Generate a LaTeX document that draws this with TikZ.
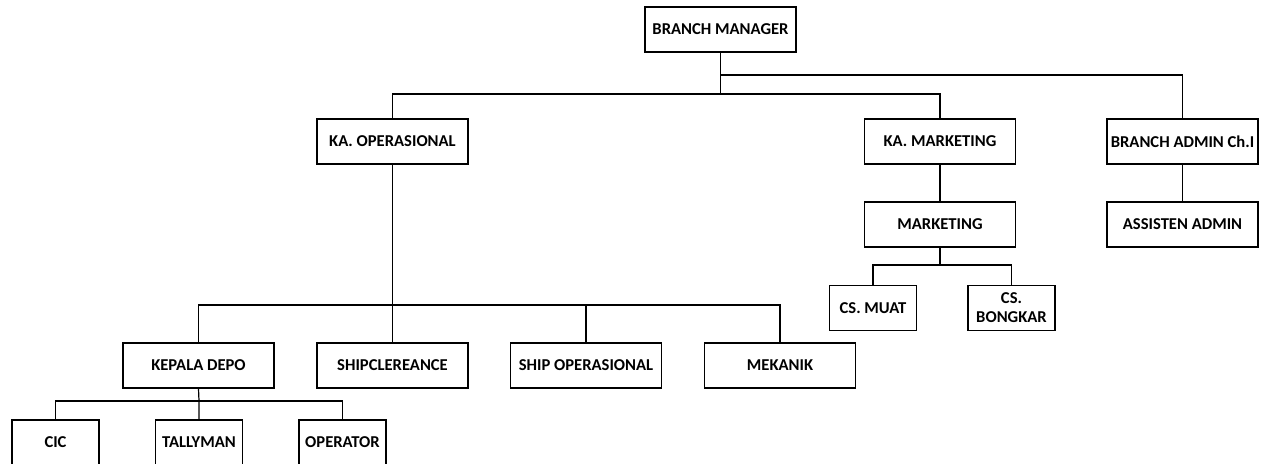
\documentclass[tikz,border=0pt]{standalone}
\usepackage{fontspec}
\setmainfont{Carlito}
\begin{document}
\begin{tikzpicture}[x=0.5pt,y=-0.5pt,
  box/.style={draw=black, line width=0.6pt, fill=white, inner sep=0pt,
    font=\fontsize{8.3}{9.5}\selectfont\bfseries, align=center,
    minimum width=75.5pt, minimum height=22.5pt},
  sbox/.style={box, minimum width=43.5pt},
  conn/.style={draw=black, line width=0.6pt}]
\useasboundingbox (0,0) rectangle (1264,463);
% top levels
\node[box] (bm) at (720.5,29.5) {BRANCH MANAGER};
\node[box] (kaop) at (392.5,141.5) {KA. OPERASIONAL};
\node[box] (kamark) at (940,141.5) {KA. MARKETING};
\node[box] (badmin) at (1182.5,141.5) {BRANCH ADMIN Ch.I};
\node[box] (mark) at (940,224.5) {MARKETING};
\node[box] (asadmin) at (1182.5,224.5) {ASSISTEN ADMIN};
\node[sbox] (csmuat) at (873,308) {CS. MUAT};
\node[sbox] (csbong) at (1011.5,308) {CS.\\BONGKAR};
% operational level
\node[box] (kdepo) at (198.5,365.5) {KEPALA DEPO};
\node[box] (shipcl) at (392.5,365.5) {SHIPCLEREANCE};
\node[box] (shipop) at (586,365.5) {SHIP OPERASIONAL};
\node[box] (mekanik) at (780,365.5) {MEKANIK};
\node[sbox] (cic) at (55.5,442.5) {CIC};
\node[sbox] (tally) at (199,442.5) {TALLYMAN};
\node[sbox] (oper) at (342.5,442.5) {OPERATOR};
% junctions
\coordinate (jtop) at (720.5,75);
\coordinate (jmid) at (720.5,94);
\coordinate (jop) at (392.5,305);
\coordinate (jdepo) at (199,401);
\coordinate (jmark) at (940,265);
% connectors
\draw[conn] (bm.south) -- (jmid);
\draw[conn] (jtop) -| (badmin.north);
\draw[conn] (kaop.north) |- (jmid) -| (kamark.north);
\draw[conn] (kamark.south) -- (mark.north);
\draw[conn] (badmin.south) -- (asadmin.north);
\draw[conn] (mark.south) -- (jmark);
\draw[conn] (csmuat.north) |- (jmark) -| (csbong.north);
\draw[conn] (kaop.south) -- (jop) -- (shipcl.north);
\draw[conn] (kdepo.north) |- (jop) -| (mekanik.north);
\draw[conn] (shipop.north) -- (shipop.north |- jop);
\draw[conn] (kdepo.south) -- (jdepo) -- (tally.north);
\draw[conn] (cic.north) |- (jdepo) -| (oper.north);
\end{tikzpicture}
\end{document}
